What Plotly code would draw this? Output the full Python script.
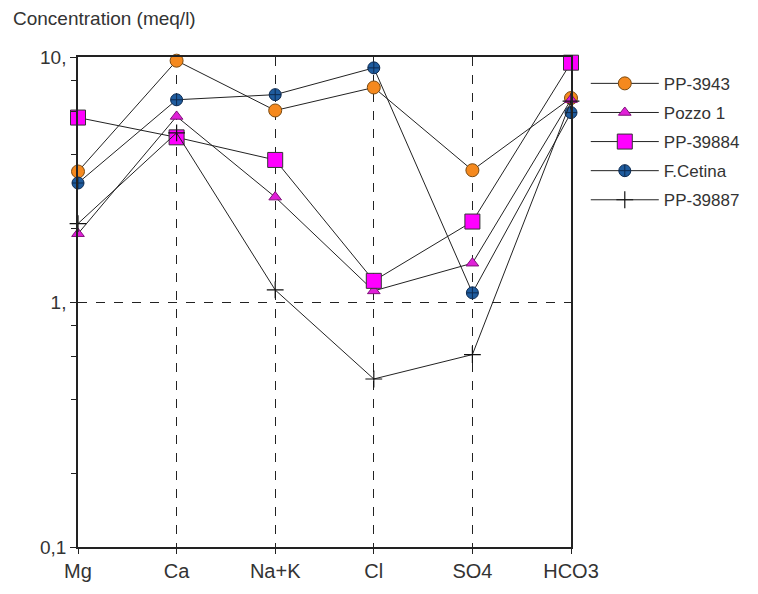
import plotly.graph_objects as go

ions = ["Mg", "Ca", "Na+K", "Cl", "SO4", "HCO3"]
pp3943 = [3.41, 9.66, 6.05, 7.51, 3.45, 6.8]
pozzo1 = [1.90, 5.72, 2.68, 1.11, 1.44, 6.7]
pp39884 = [5.66, 4.70, 3.80, 1.22, 2.13, 9.48]
fcetina = [3.06, 6.69, 7.02, 9.03, 1.09, 5.93]
pp39887 = [2.09, 4.9, 1.12, 0.485, 0.61, 6.6]

ytick_vals = [0.1, 1, 10]
ytick_text = ["0,1", "1,", "10,"]
minor_vals = [0.2, 0.4, 0.6, 0.8, 2, 4, 6, 8]

series = [
    ("PP-3943", pp3943, dict(symbol="circle", size=13, color="#F5891E", line=dict(color="#7a4a10", width=1))),
    ("Pozzo 1", pozzo1, dict(symbol="triangle-up", size=11, color="#E020D8", line=dict(color="#80107a", width=1))),
    ("PP-39884", pp39884, dict(symbol="square", size=15, color="#FF00FF", line=dict(color="#333333", width=1))),
    ("F.Cetina", fcetina, dict(symbol="circle-cross", size=12, color="#1F5C9E", line=dict(color="#0d2a50", width=1))),
    ("PP-39887", pp39887, dict(symbol="cross-thin", size=12, color="#111111", line=dict(color="#111111", width=1.2))),
]

xidx = list(range(len(ions)))

fig = go.Figure()
for i, (name, vals, mk) in enumerate(series):
    fig.add_trace(go.Scatter(
        x=xidx, y=vals, name=name, mode="lines+markers",
        line=dict(color="#222222", width=1),
        marker=mk, cliponaxis=False, legendgroup=f"g{i}",
    ))

fig.update_layout(
    width=750, height=586,
    margin=dict(l=70, r=187, t=49, b=43),
    paper_bgcolor="white", plot_bgcolor="white",
    font=dict(family="Liberation Sans, Arial, sans-serif", size=19, color="#333333"),
    showlegend=True,
    legend=dict(x=1.03, y=0.982, xanchor="left", yanchor="top",
                font=dict(size=17, color="#333333"), tracegroupgap=4,
                itemwidth=68, bgcolor="rgba(0,0,0,0)"),
    annotations=[dict(text="Concentration (meq/l)", xref="paper", yref="paper",
                      x=-0.135, y=1.079, xanchor="left", yanchor="middle",
                      showarrow=False, font=dict(size=19, color="#333333"))],
)

fig.update_xaxes(
    range=[0, 5], tickvals=xidx, ticktext=ions,
    showline=True, linecolor="#222222", linewidth=1.5, mirror=True,
    ticks="outside", ticklen=5, tickcolor="#222222",
    showgrid=True, gridcolor="#222222", griddash="dash", gridwidth=1.2,
    zeroline=False, tickfont=dict(size=20, color="#333333"),
)
fig.update_yaxes(
    type="log", range=[-1, 1], tickvals=ytick_vals, ticktext=ytick_text,
    showline=True, linecolor="#222222", linewidth=1.5, mirror=True,
    ticks="outside", ticklen=6, tickcolor="#222222",
    showgrid=True, gridcolor="#222222", griddash="dash", gridwidth=1.2,
    zeroline=False, tickfont=dict(size=19, color="#333333"),
    minor=dict(tickvals=minor_vals, ticks="outside", ticklen=5, tickcolor="#222222", showgrid=False),
)

fig.write_html("out.html")
